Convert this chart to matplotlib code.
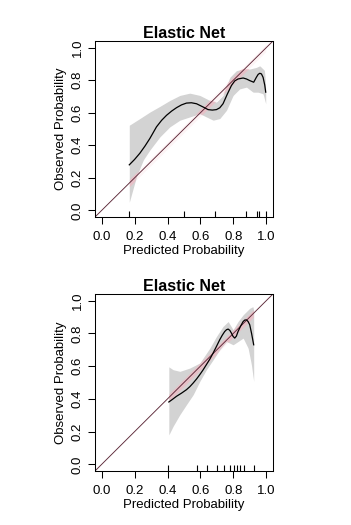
import matplotlib
matplotlib.use("Agg")
import matplotlib.pyplot as plt
import numpy as np

plt.rcParams['font.family'] = ['Liberation Sans', 'DejaVu Sans']

title = "Elastic Net"
xlabel = "Predicted Probability"
ylabel = "Observed Probability"
ticks = [0.0, 0.2, 0.4, 0.6, 0.8, 1.0]
tick_labels = ["0.0", "0.2", "0.4", "0.6", "0.8", "1.0"]

# top panel: calibration curve, confidence band, rug of predictions
top_curve_x = [0.168, 0.2, 0.232, 0.263, 0.293, 0.333, 0.364, 0.394, 0.425, 0.455, 0.485,
               0.515, 0.545, 0.576, 0.616, 0.646, 0.672, 0.697, 0.717, 0.737, 0.762,
               0.788, 0.808, 0.828, 0.859, 0.879, 0.899, 0.923, 0.939, 0.95, 0.96,
               0.97, 0.98, 0.99, 0.996]
top_curve_y = [0.28, 0.313, 0.351, 0.395, 0.442, 0.513, 0.553, 0.584, 0.61, 0.631, 0.648,
               0.659, 0.661, 0.655, 0.635, 0.619, 0.616, 0.619, 0.63, 0.655, 0.712,
               0.767, 0.795, 0.807, 0.813, 0.807, 0.797, 0.787, 0.817, 0.835, 0.842,
               0.838, 0.817, 0.77, 0.726]
top_upper_x = [0.168, 0.232, 0.293, 0.354, 0.414, 0.475, 0.535, 0.596, 0.657, 0.697,
               0.737, 0.778, 0.818, 0.859, 0.899, 0.939, 0.96, 0.99, 0.996]
top_upper_y = [0.523, 0.564, 0.604, 0.639, 0.675, 0.706, 0.72, 0.706, 0.675, 0.665,
               0.706, 0.817, 0.858, 0.868, 0.868, 0.878, 0.888, 0.858, 0.736]
top_lower_x = [0.168, 0.212, 0.253, 0.293, 0.354, 0.414, 0.475, 0.535, 0.596, 0.636,
               0.677, 0.717, 0.758, 0.798, 0.838, 0.879, 0.919, 0.949, 0.98, 0.996]
top_lower_y = [0.05, 0.209, 0.31, 0.371, 0.452, 0.513, 0.554, 0.574, 0.594, 0.574,
               0.554, 0.564, 0.615, 0.706, 0.746, 0.757, 0.726, 0.726, 0.716, 0.655]
top_rug = [0.167, 0.503, 0.69, 0.874, 0.942, 0.956, 1.0]

# bottom panel
bot_curve_x = [0.408, 0.43, 0.455, 0.485, 0.515, 0.536, 0.556, 0.576, 0.596, 0.616,
               0.636, 0.657, 0.677, 0.697, 0.717, 0.732, 0.747, 0.758, 0.768, 0.778,
               0.788, 0.798, 0.808, 0.818, 0.828, 0.844, 0.859, 0.869, 0.879, 0.889,
               0.899, 0.91, 0.923]
bot_curve_y = [0.381, 0.397, 0.416, 0.435, 0.456, 0.475, 0.497, 0.521, 0.548, 0.577,
               0.609, 0.643, 0.68, 0.72, 0.761, 0.788, 0.811, 0.822, 0.826, 0.818,
               0.801, 0.781, 0.771, 0.783, 0.811, 0.845, 0.872, 0.881, 0.882, 0.872,
               0.852, 0.8, 0.73]
bot_upper_x = [0.404, 0.434, 0.475, 0.535, 0.596, 0.657, 0.697, 0.737, 0.768, 0.798,
               0.828, 0.859, 0.899, 0.919, 0.923]
bot_upper_y = [0.598, 0.578, 0.568, 0.588, 0.619, 0.71, 0.781, 0.842, 0.872, 0.822,
               0.872, 0.913, 0.953, 0.963, 0.935]
bot_lower_x = [0.404, 0.434, 0.475, 0.515, 0.556, 0.596, 0.636, 0.677, 0.717, 0.758,
               0.798, 0.828, 0.859, 0.889, 0.909, 0.923]
bot_lower_y = [0.172, 0.233, 0.304, 0.365, 0.426, 0.507, 0.578, 0.639, 0.70, 0.75,
               0.73, 0.75, 0.771, 0.71, 0.609, 0.507]
bot_rug = [0.404, 0.576, 0.64, 0.70, 0.743, 0.778, 0.803, 0.822, 0.842, 0.865, 0.925]


def calib_panel(ax, cx, cy, ux, uy, lx, ly, rug):
    xs = np.linspace(cx[0], cx[-1], 200)
    band = ax.fill_between(xs, np.interp(xs, lx, ly), np.interp(xs, ux, uy),
                           color='#d3d3d3', lw=0)
    # light red band around the ideal line, seen mostly where it overlaps the grey
    ax.fill_between(xs, xs - 0.022, xs + 0.022, color='#f2b8c2', alpha=0.15, lw=0)
    pink = ax.fill_between(xs, xs - 0.022, xs + 0.022, color='#f2b8c2', alpha=0.6, lw=0)
    pink.set_clip_path(band.get_paths()[0], ax.transData)
    ax.plot([-0.04, 1.04], [-0.04, 1.04], color='#5c2838', lw=0.65)
    ax.plot(cx, cy, color='black', lw=0.9)
    ax.vlines(rug, 0, 0.033, transform=ax.get_xaxis_transform(), color='black', lw=0.8)

    ax.set_xlim(-0.04, 1.04)
    ax.set_ylim(-0.04, 1.04)
    ax.set_xticks(ticks)
    ax.set_xticklabels(tick_labels, fontsize=9.5)
    ax.set_yticks(ticks)
    ax.set_yticklabels(tick_labels, fontsize=9.5, rotation=90, va='center')
    ax.tick_params(direction='out', length=4.8, width=0.75)
    ax.tick_params(axis='x', pad=5.5)
    ax.tick_params(axis='y', pad=3.5)
    for s in ax.spines.values():
        s.set_linewidth(0.75)
    ax.set_xlabel(xlabel, fontsize=9.5, labelpad=1)
    ax.set_ylabel(ylabel, fontsize=9.5, labelpad=3)
    ax.set_title(title, fontsize=11.5, fontweight='bold', pad=1)


fig = plt.figure(figsize=(3.51, 5.25), dpi=100)
ax1 = fig.add_axes([0.2707, 0.5867, 0.507, 0.3352])
ax2 = fig.add_axes([0.2707, 0.1029, 0.507, 0.3371])

calib_panel(ax1, top_curve_x, top_curve_y, top_upper_x, top_upper_y,
            top_lower_x, top_lower_y, top_rug)
calib_panel(ax2, bot_curve_x, bot_curve_y, bot_upper_x, bot_upper_y,
            bot_lower_x, bot_lower_y, bot_rug)

fig.savefig("out.png", dpi=100)
